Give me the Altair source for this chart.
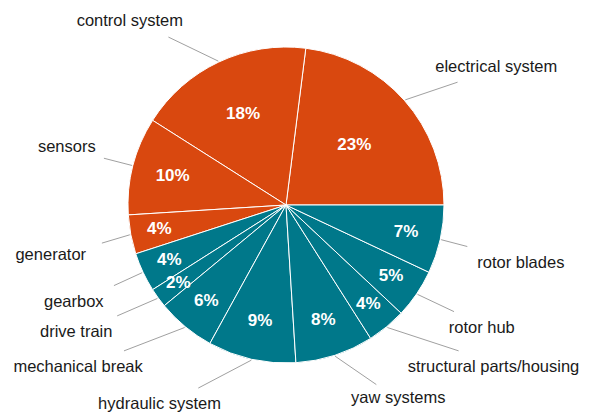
import math
import pandas as pd
import altair as alt

# ---- data ----
categories = [
    "electrical system", "control system", "sensors", "generator",
    "gearbox", "drive train", "mechanical break", "hydraulic system",
    "yaw systems", "structural parts/housing", "rotor hub", "rotor blades",
]
shares = [23, 18, 10, 4, 4, 2, 6, 9, 8, 4, 5, 7]
groups = ["electrical"] * 4 + ["mechanical"] * 8

# ---- label layout (offsets relative to each slice's mid angle) ----
line_end_dang = [-5.8, 9.8, 0, 0.9, -0.1, -2.7, -8.4, -13, 8.7, 10.2, 1.8, -0.3]
line_end_r = [211, 205, 188, 188, 190, 202, 218, 203, 201, 226, 199, 186]
text_dang = [-8.1, 15.1, -0.4, 1.2, -0.7, -4.9, -12.5, -19.8, 12.2, 12.5, 2.0, -1.3]
text_r = [251.5, 241.4, 226.7, 240.5, 233.2, 245, 263.5, 236, 223, 263.0, 231.3, 241.9]

R = 158
W, H = 556, 394

total = sum(shares)
rows = []
cum = 0
for i, (c, v, g) in enumerate(zip(categories, shares, groups)):
    a0 = cum / total * 360
    a1 = (cum + v) / total * 360
    cum += v
    mid = (a0 + a1) / 2

    def pol(r, ang):
        t = math.radians(ang)
        return r * math.cos(t), r * math.sin(t)

    sx, sy = pol(R + 1, mid)
    ex, ey = pol(line_end_r[i], mid + line_end_dang[i])
    tx, ty = pol(text_r[i], mid + text_dang[i])
    px, py = pol(137 - 2 * v, mid)
    rows.append(dict(idx=i, category=c, share=v, group=g,
                     pct=f"{v}%", sx=sx, sy=sy, ex=ex, ey=ey,
                     tx=tx, ty=ty, px=px, py=py))
df = pd.DataFrame(rows)

xs = alt.Scale(domain=[-W / 2, W / 2], nice=False, zero=False)
ys = alt.Scale(domain=[-H / 2, H / 2], nice=False, zero=False)

base = alt.Chart(df)

arcs = base.mark_arc(radius=R, stroke="white", strokeWidth=1).encode(
    theta=alt.Theta("share:Q", stack=True,
                    scale=alt.Scale(range=[math.pi / 2, math.pi / 2 - 2 * math.pi])),
    color=alt.Color("group:N",
                    scale=alt.Scale(domain=["electrical", "mechanical"],
                                    range=["#D9480F", "#00788A"]),
                    legend=None),
    order=alt.Order("idx:Q"),
)

rules = base.mark_rule(color="#a0a0a0", strokeWidth=1).encode(
    x=alt.X("sx:Q", scale=xs, axis=None),
    y=alt.Y("sy:Q", scale=ys, axis=None),
    x2="ex:Q",
    y2="ey:Q",
)

labels = base.mark_text(font="Liberation Sans", fontSize=16.5, color="#1a1a1a",
                        align="center", baseline="middle").encode(
    x=alt.X("tx:Q", scale=xs, axis=None),
    y=alt.Y("ty:Q", scale=ys, axis=None),
    text="category:N",
)

pcts = base.mark_text(font="Liberation Sans", fontSize=17, fontWeight="bold",
                      color="white", align="center", baseline="middle").encode(
    x=alt.X("px:Q", scale=xs, axis=None),
    y=alt.Y("py:Q", scale=ys, axis=None),
    text="pct:N",
)

chart = alt.layer(arcs, rules, labels, pcts).properties(
    width=W, height=H,
    padding={"left": 0, "top": 0, "right": 17, "bottom": 14},
    autosize="none",
).configure_view(strokeWidth=0)

chart.save("out.html", embed_options={"renderer": "svg", "actions": False})
